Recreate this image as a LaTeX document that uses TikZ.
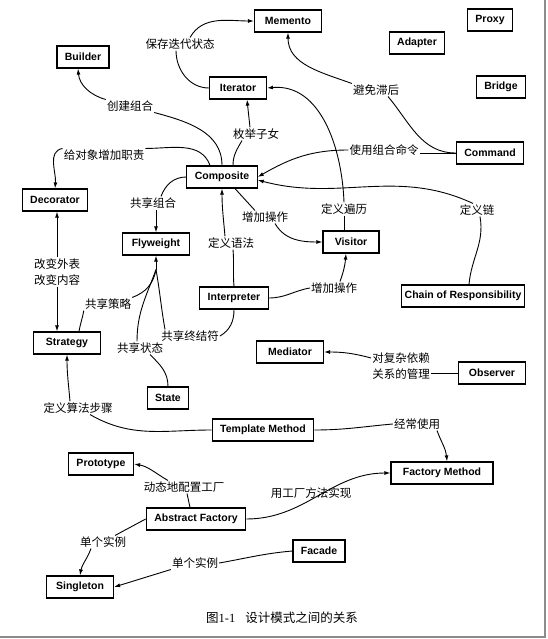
\documentclass[tikz,border=0pt]{standalone}
\usepackage{fontspec}
\setmainfont{Liberation Serif}
\setsansfont{Liberation Sans}
\newfontfamily\cjk{Noto Sans CJK SC}
\usetikzlibrary{arrows.meta}

\begin{document}
\begin{tikzpicture}[
    x=1pt, y=-1pt,
    >={Latex[length=6pt, width=4pt]},
    pat/.style ={draw, line width=1.2pt, inner xsep=8pt, minimum height=22pt,
                 font=\sffamily\bfseries\fontsize{10.5}{12}\selectfont},
    wide/.style={minimum width=67pt},
    lbl/.style ={inner sep=1pt, align=center,
                 font=\cjk\fontsize{11.5}{16}\selectfont},
    flow/.style={->, line width=0.9pt},
    link/.style={line width=0.9pt},
]
\useasboundingbox (0,0) rectangle (547,639);
\draw[black!45, line width=2pt] (545,0) -- (545,637) -- (0,637);

\node[pat, wide] (memento)   at (288,21)  {Memento};
\node[pat] (proxy)           at (490,20)  {Proxy};
\node[pat] (adapter)         at (417,43)  {Adapter};
\node[pat] (bridge)          at (501,87)  {Bridge};
\node[pat] (builder)         at (83,57)   {Builder};
\node[pat, minimum width=57pt] (iterator) at (238,88) {Iterator};
\node[pat] (command)         at (490,153) {Command};
\node[pat] (composite)       at (222,177) {Composite};
\node[pat] (decorator)       at (55,200)  {Decorator};
\node[pat, wide] (flyweight) at (156,244) {Flyweight};
\node[pat, minimum width=56pt] (visitor) at (351,242) {Visitor};
\node[pat] (interpreter)     at (234,298) {Interpreter};
\node[pat, inner xsep=3.5pt] (chain) at (463,296) {Chain of Responsibility};
\node[pat, wide] (strategy)  at (67,343)  {Strategy};
\node[pat, wide] (mediator)  at (290,352) {Mediator};
\node[pat, wide] (observer)  at (492,373) {Observer};
\node[pat] (state)           at (168,398) {State};
\node[pat] (template)        at (263,430) {Template Method};
\node[pat, minimum width=102pt] (factory) at (442,473) {Factory Method};
\node[pat] (prototype)       at (101,464) {Prototype};
\node[pat] (abstract)        at (196,519) {Abstract Factory};
\node[pat] (facade)          at (319,551) {Facade};
\node[pat, wide] (singleton) at (80,587)  {Singleton};

\node[lbl] (lsave)    at (180,44)  {保存迭代状态};
\node[lbl] (lavoid)   at (376,90)  {避免滞后};
\node[lbl] (lbuild)   at (130,106) {创建组合};
\node[lbl] (lenum)    at (256,134) {枚举子女};
\node[lbl] (lcmd)     at (384,150) {使用组合命令};
\node[lbl] (lresp)    at (104,155) {给对象增加职责};
\node[lbl] (lscomp)   at (153,203) {共享组合};
\node[lbl] (ltrav)    at (344,209) {定义遍历};
\node[lbl] (lchain)   at (477,210) {定义链};
\node[lbl] (ladd)     at (265,217) {增加操作};
\node[lbl] (lgram)    at (231,243) {定义语法};
\node[lbl] (lchange)  at (57,272)  {改变外表\\改变内容};
\node[lbl] (laddop)   at (334,288) {增加操作};
\node[lbl] (lsstrat)  at (108,304) {共享策略};
\node[lbl] (lsterm)   at (190,336) {共享终结符};
\node[lbl] (lsstate)  at (140,348) {共享状态};
\node[lbl] (ldep)     at (401,366) {对复杂依赖\\关系的管理};
\node[lbl] (lalgo)    at (78,408)  {定义算法步骤};
\node[lbl] (loften)   at (417,424) {经常使用};
\node[lbl] (ldyn)     at (184,487) {动态地配置工厂};
\node[lbl] (limpl)    at (311,493) {用工厂方法实现};
\node[lbl] (lsingle)  at (103,542) {单个实例};
\node[lbl] (lsinglef) at (195,563) {单个实例};

\node[font=\fontsize{12.5}{14}\selectfont] (caption) at (282,618)
   {{\cjk 图}1-1\hspace{10pt}{\cjk 设计模式之间的关系}};

\draw[link] (iterator.west) to[out=180, in=-90] ([xshift=-4pt]lsave.south);
\draw[flow] ([xshift=10pt]lsave.north) to[out=60, in=180] (memento.west);
\draw[link] (command.west) to[out=180, in=-50] ([xshift=12pt]lavoid.south);
\draw[flow] (lavoid.north west) to[out=160, in=-90] (memento.south);
\draw[link] (ltrav.south) -- (ltrav.south |- visitor.north);
\draw[flow] (ltrav.north) to[out=92, in=5] (iterator.east);
\draw[link] ([xshift=11pt]composite.north) to[out=90, in=-120] ([xshift=-14pt]lenum.south);
\draw[flow] ([xshift=-6pt]lenum.north) -- ([xshift=9pt]iterator.south);
\draw[link] (composite.north) to[out=90, in=-15] (lbuild.south east);
\draw[flow] (lbuild.north west) to[out=165, in=-85] ([xshift=-5pt]builder.south);
\draw[link] ([xshift=-12pt]composite.north) to[out=110, in=0] (lresp.north east);
\draw[flow] (lresp.north west) to[out=190, in=85] (decorator.north);
\draw[link] (command.west) -- (command.west -| lcmd.east);
\draw[flow] (lcmd.west) to[out=180, in=30] (composite.east);
\draw[link] ([xshift=6pt]chain.north) to[out=85, in=-80] ([xshift=3pt]lchain.south);
\draw[flow] ([xshift=-4pt]lchain.north) to[out=155, in=-15] ([yshift=-3pt]composite.east);
\draw[link] ([xshift=13pt]composite.south) -- ([xshift=-10pt]ladd.north);
\draw[flow] ([xshift=10pt]ladd.south) to[out=-60, in=180] (visitor.west);
\draw[link] (interpreter.east) to[out=0, in=190] (laddop.west);
\draw[flow] ([xshift=6pt]laddop.north) to[out=70, in=-95] ([xshift=-5pt]visitor.south);
\draw[link] (interpreter.north) to[out=95, in=-85] ([xshift=2pt]lgram.south);
\draw[flow] ([xshift=-6pt]lgram.north) to[out=95, in=-90] (composite.south);
\draw[link] (composite.west) to[out=180, in=70] ([xshift=8pt]lscomp.north);
\draw[flow] (flyweight.north |- lscomp.south) -- (flyweight.north);
\draw[flow] (lchange.north) -- (lchange.north |- decorator.south);
\draw[flow] (lchange.south) -- (lchange.south |- strategy.north);
% three sharing links meet below Flyweight
\coordinate (flyjoin) at ([yshift=-14pt]flyweight.south);
\draw[flow] (flyjoin) -- (flyweight.south);
\draw[link] ([xshift=12pt]strategy.north) to[out=80, in=-100] (lsstrat.south west);
\draw[link] (lsstrat.north east) to[out=20, in=-100] (flyjoin);
\draw[link] (state.north) to[out=90, in=-45] ([xshift=10pt]lsstate.south);
\draw[link] ([xshift=-3pt]lsstate.north) to[out=90, in=-110] (flyjoin);
\draw[link] (interpreter.south) to[out=-90, in=30] (lsterm.east);
\draw[link] ([xshift=-25pt]lsterm.north) to[out=100, in=-80] (flyjoin);
\draw[link] (observer.west) -- (observer.west -| ldep.east);
\draw[flow] ([yshift=8pt]ldep.west) to[out=165, in=0] (mediator.east);
\draw[link] (template.west) to[out=180, in=-30] ([xshift=12pt]lalgo.south);
\draw[flow] ([xshift=-8pt]lalgo.north) to[out=95, in=-90] (strategy.south);
\draw[link] (template.east) to[out=0, in=185] (loften.west);
\draw[flow] ([xshift=20pt]loften.south) to[out=-70, in=95] ([xshift=5pt]factory.north);
\draw[link] ([xshift=-6pt]abstract.north) -- ([xshift=3pt]ldyn.south);
\draw[flow] ([xshift=-16pt]ldyn.north) to[out=150, in=-10] (prototype.east);
\draw[flow] (abstract.east) to[out=0, in=180] (factory.west);
\draw[link] (abstract.west) -- ([xshift=12pt]lsingle.north);
\draw[flow] ([xshift=-12pt]lsingle.south) to[out=-110, in=80] (singleton.north);
\draw[link] (facade.west) to[out=185, in=10] (lsinglef.east);
\draw[flow] (lsinglef.south west) -- (singleton.east);
\end{tikzpicture}
\end{document}
